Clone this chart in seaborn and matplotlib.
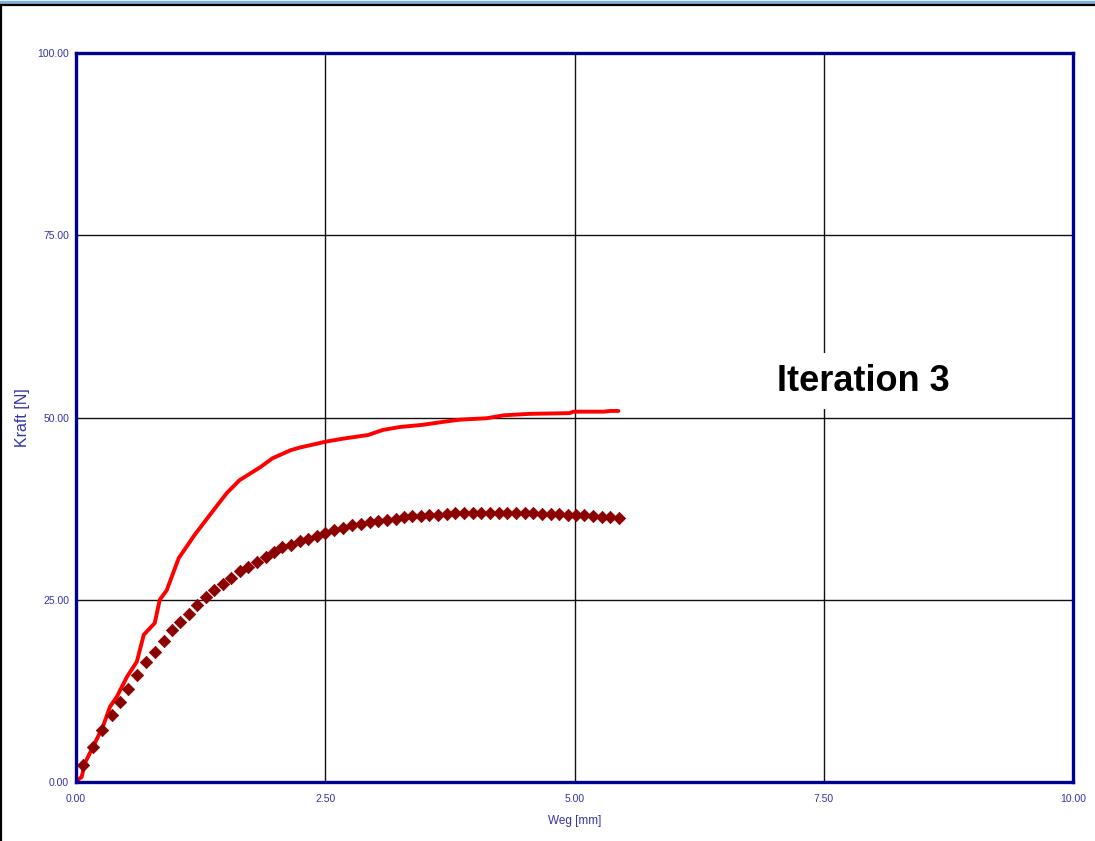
import matplotlib
matplotlib.use("Agg")
import matplotlib.pyplot as plt
from matplotlib.lines import Line2D
import seaborn as sns
import pandas as pd

# Red continuous curve (Weg [mm], Kraft [N])
red_x = [0.02, 0.057, 0.09, 0.17, 0.27, 0.34, 0.41, 0.51, 0.61, 0.68, 0.79, 0.84, 0.91,
         1.03, 1.19, 1.38, 1.51, 1.64, 1.85, 1.97, 2.15, 2.25, 2.35, 2.51, 2.68, 2.93,
         3.08, 3.25, 3.48, 3.68, 3.85, 4.12, 4.29, 4.55, 4.95, 4.99, 5.29, 5.36, 5.44]
red_y = [0.3, 0.7, 2.6, 4.8, 7.6, 10.3, 11.7, 14.4, 16.5, 20.2, 21.8, 25.0, 26.3,
         30.7, 33.9, 37.3, 39.6, 41.4, 43.2, 44.4, 45.5, 45.9, 46.2, 46.7, 47.1, 47.6,
         48.3, 48.7, 49.0, 49.4, 49.7, 49.9, 50.3, 50.5, 50.6, 50.8, 50.8, 50.9, 50.9]

# Dark red diamond series
dia_x = [0.07, 0.17, 0.26, 0.36, 0.44, 0.52, 0.61, 0.70, 0.79, 0.88,
         0.96, 1.04, 1.13, 1.21, 1.30, 1.38, 1.47, 1.55, 1.64, 1.73,
         1.82, 1.91, 1.99, 2.07, 2.16, 2.25, 2.33, 2.42, 2.50, 2.59,
         2.68, 2.77, 2.86, 2.95, 3.03, 3.12, 3.21, 3.29, 3.37, 3.46,
         3.54, 3.63, 3.72, 3.80, 3.89, 3.98, 4.06, 4.15, 4.24, 4.32,
         4.41, 4.50, 4.58, 4.67, 4.76, 4.84, 4.93, 5.02, 5.10, 5.19,
         5.28, 5.36, 5.45]
dia_y = [2.3, 4.8, 7.1, 9.2, 11.0, 12.8, 14.7, 16.4, 17.9, 19.4,
         20.8, 22.0, 23.1, 24.3, 25.4, 26.3, 27.2, 28.0, 28.9, 29.5,
         30.2, 30.9, 31.6, 32.3, 32.5, 33.0, 33.3, 33.8, 34.2, 34.6,
         34.8, 35.2, 35.4, 35.7, 35.8, 36.0, 36.1, 36.3, 36.5, 36.5,
         36.6, 36.6, 36.8, 36.9, 36.9, 36.9, 36.9, 36.9, 36.9, 36.9,
         36.9, 36.9, 36.9, 36.8, 36.8, 36.8, 36.6, 36.6, 36.6, 36.5,
         36.4, 36.3, 36.2]

x_ticks = [0.0, 2.5, 5.0, 7.5, 10.0]
y_ticks = [0.0, 25.0, 50.0, 75.0, 100.0]
x_tick_labels = ["0.00", "2.50", "5.00", "7.50", "10.00"]
y_tick_labels = ["0.00", "25.00", "50.00", "75.00", "100.00"]
annotation = "Iteration 3"
x_label = "Weg [mm]"
y_label = "Kraft [N]"

sns.set_style("white")
plt.rcParams['font.family'] = ['Liberation Sans', 'DejaVu Sans']

fig = plt.figure(figsize=(10.95, 8.41), dpi=100)
ax = fig.add_axes([76/1095, 1 - 782/841, (1073-76)/1095, (782-53)/841])

red_df = pd.DataFrame({"x": red_x, "y": red_y})
dia_df = pd.DataFrame({"x": dia_x, "y": dia_y})

sns.lineplot(data=red_df, x="x", y="y", ax=ax, color="#ff0000", linewidth=2.8,
             sort=False, estimator=None, zorder=3)
sns.scatterplot(data=dia_df, x="x", y="y", ax=ax, marker="D", s=40, color="#8b0000",
                edgecolor="#8b0000", linewidth=0.5, zorder=4)

ax.set_xlim(0, 10)
ax.set_ylim(0, 100)
ax.set_xticks(x_ticks)
ax.set_xticklabels(x_tick_labels)
ax.set_yticks(y_ticks)
ax.set_yticklabels(y_tick_labels)
ax.grid(True, color="#111111", linewidth=1.0)
ax.set_axisbelow(True)

navy = "#00008f"
tick_col = "#3333a8"
for s in ax.spines.values():
    s.set_color(navy)
    s.set_linewidth(2.4)
    s.set_zorder(5)
ax.tick_params(axis="both", length=0, labelsize=7.5, labelcolor=tick_col)
ax.tick_params(axis="x", pad=9)
ax.tick_params(axis="y", pad=5)

ax.set_xlabel(x_label, fontsize=8.5, color=tick_col)
ax.xaxis.set_label_coords(0.5, -(815 - 782) / 729)
ax.set_ylabel(y_label, fontsize=11.5, color=tick_col)
ax.yaxis.set_label_coords(-(76 - 30) / 997, 0.5)

ax.text(7.90, 55.0, annotation, fontsize=26, fontweight="bold", color="black",
        ha="center", va="center", zorder=6,
        bbox=dict(boxstyle="square,pad=0.3", facecolor="white", edgecolor="none"))

# outer window frame
fig.add_artist(Line2D([0, 1], [1 - 1.5/841, 1 - 1.5/841], transform=fig.transFigure,
                      color="#7fb3d9", linewidth=2.5))
fig.add_artist(Line2D([0, 1], [1 - 4.5/841, 1 - 4.5/841], transform=fig.transFigure,
                      color="black", linewidth=1.6))
fig.add_artist(Line2D([1/1095, 1/1095], [0, 1 - 4.5/841], transform=fig.transFigure,
                      color="black", linewidth=1.6))

fig.savefig("out.png", dpi=100)
